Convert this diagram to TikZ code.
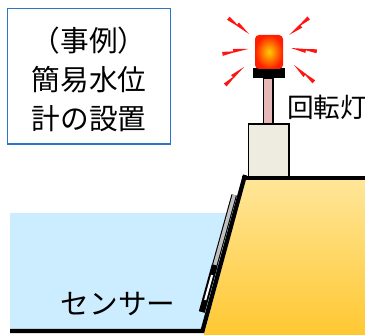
\documentclass[tikz,border=0pt]{standalone}
\usepackage{fontspec}
\setmainfont{Noto Sans CJK JP}

\definecolor{frameblue}{RGB}{46,117,200}
\definecolor{water}{RGB}{204,236,255}
\definecolor{bankhi}{RGB}{255,230,153}
\definecolor{banklo}{RGB}{255,200,50}
\definecolor{housing}{RGB}{238,235,224}
\definecolor{pole}{RGB}{230,185,184}
\definecolor{flash}{RGB}{255,20,20}
\definecolor{sensorgray}{RGB}{191,191,191}

\newcommand{\bolt}[3]{%
  \fill[flash,shift={(#1,#2)},rotate=#3] (0,0) -- (15,2.6) -- (15,-1.4) -- cycle
    (10,-0.6) -- (26,1.2) -- (26,-2.8) -- cycle;}

\begin{document}
\begin{tikzpicture}[x=0.75pt,y=-0.75pt,
  big/.style={font=\fontsize{21.5}{29.3}\selectfont,inner sep=0pt,align=center},
  small/.style={font=\fontsize{20}{22}\selectfont,inner sep=0pt}]
\useasboundingbox (0,0) rectangle (365,335);

\draw[frameblue,line width=1.1pt] (7.5,8.5) rectangle (170.5,144);
\node[big] (title) at (89,79) {（事例）\\簡易水位\\計の設置};

\fill[water] (10,213) -- (236,213) -- (203,331) -- (10,331) -- cycle;
\shade[top color=bankhi,bottom color=banklo] (246,178) -- (365,178) -- (365,335) -- (204,335) -- cycle;

\draw[line width=1.1pt,fill=housing] (248.5,124) rectangle (289,178);
\draw[line width=1.1pt,fill=pole] (263.5,78) rectangle (273,124);
\fill[black] (252.5,68.5) rectangle (285,78.5);
\shade[rounded corners=3pt,inner color={rgb,255:red,255;green,205;blue,0},
  outer color={rgb,255:red,255;green,30;blue,0}] (255,35) rectangle (283,69);

\bolt{249}{34}{141}
\bolt{289}{35}{39}
\bolt{248}{49}{189}
\bolt{291}{48}{-9}
\bolt{244}{67}{222}
\bolt{294}{65}{-42}

\draw[line width=3.2pt,line join=miter] (10,331) -- (202.5,331) -- (245,175);
\draw[line width=3.2pt] (242,178) -- (365,178);

\draw[line width=0.8pt,double=sensorgray,double distance=2.6pt] (234.2,195) -- (214.8,265);
\draw[line width=4.6pt] (214.8,265) -- (201.8,312);
\draw[white,line width=1.6pt] (212.1,275) -- (205.2,300);

\node[small,anchor=west] (lamp) at (287,107) {回転灯};
\node[big] (sensor) at (118,304) {センサー};
\end{tikzpicture}
\end{document}
